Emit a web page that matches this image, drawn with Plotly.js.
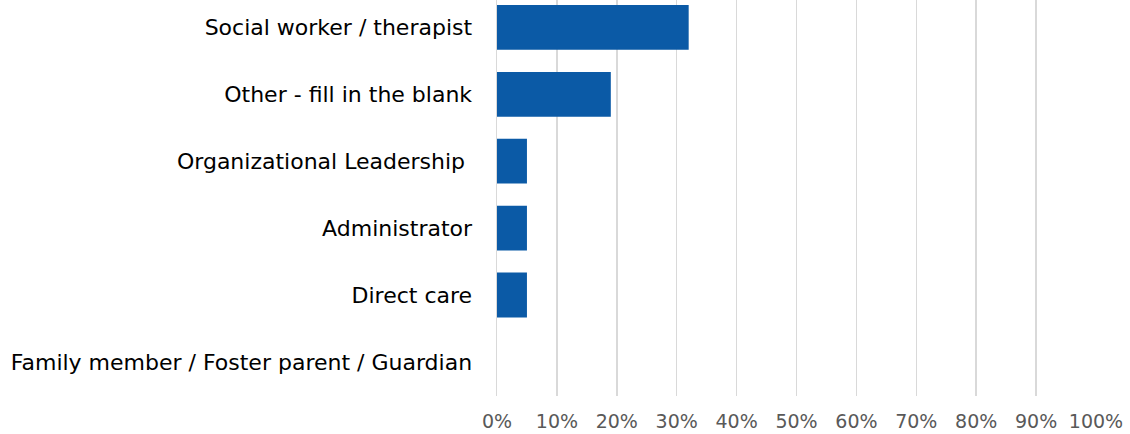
<!DOCTYPE html>
<html><head><meta charset="utf-8">
<script src="https://cdn.plot.ly/plotly-3.0.1.min.js"></script>
<style>html,body{margin:0;padding:0;background:#fff}</style>
</head><body>
<div id="chart" style="width:1130px;height:434px"></div>
<script>
const categories = [
  "Social worker / therapist",
  "Other - fill in the blank",
  "Organizational Leadership\u00a0",
  "Administrator",
  "Direct care",
  "Family member / Foster parent / Guardian"
];
const values = [0.32, 0.19, 0.05, 0.05, 0.05, 0];
const tickVals = [0,0.1,0.2,0.3,0.4,0.5,0.6,0.7,0.8,0.9,1.0];
const tickText = ["0%","10%","20%","30%","40%","50%","60%","70%","80%","90%","100%"];

Plotly.newPlot('chart', [{
  type: 'bar', orientation: 'h',
  x: values, y: categories,
  width: 0.67,
  marker: {color: '#0B5AA6', line: {width: 0}},
  hoverinfo: 'none'
}], {
  width: 1130, height: 434,
  margin: {l: 497, r: 34, t: 0, b: 38},
  paper_bgcolor: '#fff', plot_bgcolor: '#fff',
  showlegend: false,
  font: {family: 'DejaVu Sans, sans-serif'},
  xaxis: {
    range: [0, 1], tickvals: tickVals, ticktext: tickText,
    showgrid: true, gridcolor: '#D9D9D9', gridwidth: 1.5,
    zeroline: false, showline: false, ticks: '',
    tickfont: {size: 19, color: '#595959'},
    ticklabelstandoff: 12, fixedrange: true
  },
  yaxis: {
    type: 'category', range: [5.51, -0.41],
    showgrid: false, zeroline: false, showline: true, linecolor: '#D9D9D9', linewidth: 1.5,
    ticks: '', tickfont: {size: 22, color: '#000'},
    ticklabelstandoff: 19, fixedrange: true
  }
}, {displayModeBar: false, staticPlot: true});
</script>
</body></html>
